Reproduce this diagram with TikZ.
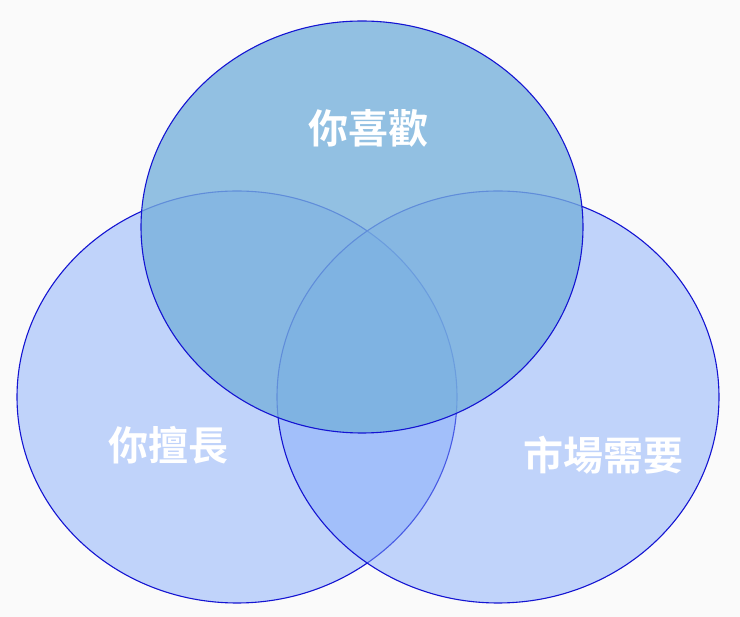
\documentclass[tikz,border=0pt]{standalone}
\usepackage{fontspec}
\newfontfamily\cjk{Noto Sans CJK TC Bold}
\definecolor{bg}{RGB}{250,250,250}
\definecolor{sidefill}{RGB}{130,170,250}
\definecolor{topfill}{RGB}{118,176,220}
\definecolor{edge}{RGB}{20,20,210}
\begin{document}
\begin{tikzpicture}[x=1pt,y=-1pt,
  side/.style={draw=edge,line width=1.1pt,fill=sidefill,fill opacity=0.48},
  topc/.style={draw=edge,line width=1.1pt,fill=topfill,fill opacity=0.78},
  lbl/.style={text=white,font=\cjk\fontsize{40}{40}\selectfont}]
\fill[bg] (0,0) rectangle (740,617);
\useasboundingbox (0,0) rectangle (740,617);
\draw[side] (237,397) ellipse [x radius=220, y radius=206];
\draw[side] (498,397) ellipse [x radius=221, y radius=206];
\draw[topc] (362,227) ellipse [x radius=221, y radius=206];
\node[lbl] (a) at (368,128) {你喜歡};
\node[lbl] (b) at (168,445) {你擅長};
\node[lbl] (c) at (603,455) {市場需要};
\end{tikzpicture}
\end{document}
